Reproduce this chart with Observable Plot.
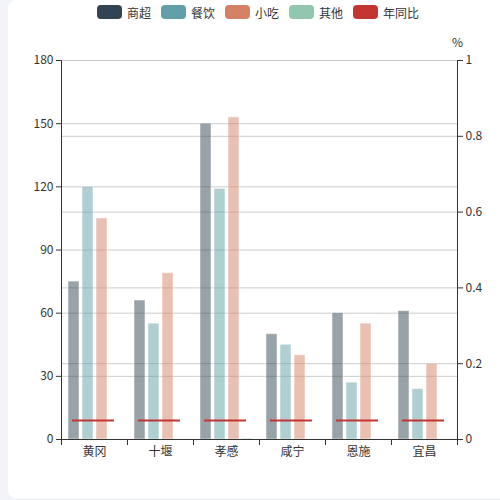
<!DOCTYPE html>
<html>
<head>
<meta charset="utf-8">
<script src="https://cdn.jsdelivr.net/npm/d3@7"></script>
<script src="https://cdn.jsdelivr.net/npm/@observablehq/plot@0.6"></script>
<style>
  body { margin: 0; background: #f3f4f9; font-family: "Noto Sans CJK SC", sans-serif; }
  #card { position: absolute; left: 8px; top: 0; width: 500px; height: 498px; background: #fff; border-radius: 8px; }
  #legend { position: absolute; left: 8px; top: 5px; width: 500px; display: flex; justify-content: center; gap: 10px; font-size: 12px; color: #333; }
  #legend .item { display: flex; align-items: center; height: 14px; }
  #legend .sw { width: 25px; height: 14px; border-radius: 4px; margin-right: 5px; }
  #chart { position: absolute; left: 0; top: 0; }
</style>
</head>
<body>
<div id="card"></div>
<div id="legend"></div>
<div id="chart"></div>
<script>
// 分类与各系列数值
let cities = ['黄冈', '十堰', '孝感', '咸宁', '恩施', '宜昌'];
let shangchao = [75, 66, 150, 50, 60, 61];
let canyin = [120, 55, 119, 45, 27, 24];
let xiaochi = [105, 79, 153, 40, 55, 36];
let qita = [0, 0, 0.5, 0, 0, 0];
let tongbi = [0.05, 0.05, 0.05, 0.05, 0.05, 0.05]; // 右轴 %

let barSeries = ['商超', '餐饮', '小吃', '其他'];
let barColors = ['#2f4554', '#61a0a8', '#d48265', '#91c7ae'];
let lineName = '年同比';
let lineColor = '#c23531';

let leftTicks = [0, 30, 60, 90, 120, 150, 180];
let rightTicks = [0, 0.2, 0.4, 0.6, 0.8, 1];

const yMax = 180; // 左轴最大值, 右轴 0..1 映射到这里

// legend (html)
const legend = d3.select('#legend');
barSeries.concat([lineName]).forEach((name, i) => {
  const it = legend.append('div').attr('class', 'item');
  it.append('div').attr('class', 'sw').style('background', i < barColors.length ? barColors[i] : lineColor);
  it.append('span').text(name);
});

const values = [shangchao, canyin, xiaochi, qita];
const barData = [];
cities.forEach((c, i) => {
  barSeries.forEach((s, j) => barData.push({ city: c, series: s, value: values[j][i] }));
});
const lineData = cities.map((c, i) => ({ city: c, value: tongbi[i] }));

const height = 470, marginTop = 60, marginBottom = 31;
const innerH = height - marginTop - marginBottom;

let chart = Plot.plot({
  width: 500,
  height: height,
  marginLeft: 59,
  marginRight: 42,
  marginTop: marginTop,
  marginBottom: marginBottom,
  style: {
    fontFamily: '"Noto Sans CJK SC", sans-serif',
    fontSize: '12px',
    color: '#333',
    background: 'transparent',
    overflow: 'visible',
  },
  fx: { domain: cities, padding: 0, label: null },
  x: { domain: barSeries, paddingInner: 0.22, paddingOuter: 0.36, axis: null },
  y: { domain: [0, yMax], axis: null },
  color: { domain: barSeries, range: barColors },
  marks: [
    Plot.gridY(leftTicks, { stroke: '#ccc', strokeOpacity: 1 }),
    Plot.gridY(rightTicks.map(v => v * yMax), { stroke: '#ccc', strokeOpacity: 1 }),
    Plot.barY(barData, {
      fx: 'city',
      x: 'series',
      y: 'value',
      fill: 'series',
      fillOpacity: 0.5,
      stroke: '#fff',
      strokeOpacity: 0.5,
      strokeWidth: 1,
    }),
    Plot.tickY(lineData, {
      fx: 'city',
      y: d => d.value * yMax,
      stroke: lineColor,
      strokeWidth: 2,
      insetLeft: 11,
      insetRight: 13,
    }),
    // 轴线
    Plot.ruleY([0], { stroke: '#333' }),
    Plot.frame({ anchor: 'left', facetAnchor: 'left', stroke: '#333' }),
    Plot.frame({ anchor: 'right', facetAnchor: 'right', stroke: '#333' }),
    // 分类边界刻度
    Plot.frame({ anchor: 'left', insetTop: innerH, insetBottom: -5, stroke: '#333' }),
    Plot.frame({ anchor: 'right', facetAnchor: 'right', insetTop: innerH, insetBottom: -5, stroke: '#333' }),
    Plot.axisFx({ anchor: 'bottom', tickSize: 0, tickPadding: 8, label: null, fontSize: 12 }),
    Plot.axisY({ anchor: 'left', ticks: leftTicks, tickSize: 5, tickPadding: 3, label: null, fontSize: 12, stroke: '#333' }),
    Plot.axisY({
      anchor: 'right',
      ticks: rightTicks.map(v => v * yMax),
      tickFormat: d => String(+(d / yMax).toFixed(1)),
      tickSize: 5,
      tickPadding: 3,
      label: null,
      fontSize: 12,
      stroke: '#333',
    }),
    Plot.text(['%'], { frameAnchor: 'top-right', textAnchor: 'middle', dy: -22, facetAnchor: 'right', fontSize: 12, fill: '#333' }),
  ],
});

d3.select('#chart').append(() => chart);
</script>
</body>
</html>
